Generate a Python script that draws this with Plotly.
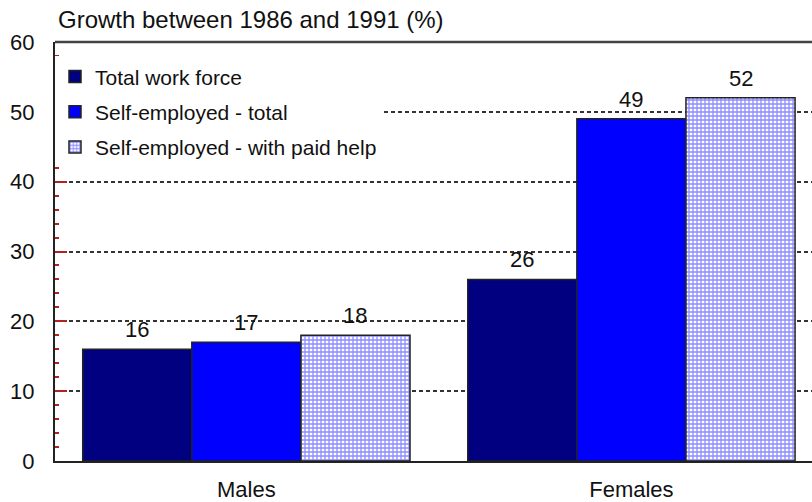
import plotly.graph_objects as go

categories = ["Males", "Females"]
series_names = ["Total work force", "Self-employed - total", "Self-employed - with paid help"]
total_work_force = [16, 26]
self_employed_total = [17, 49]
self_employed_paid_help = [18, 52]
y_ticks = [0, 10, 20, 30, 40, 50, 60]

FONT = "Liberation Sans, Arial, sans-serif"
x_idx = list(range(len(categories)))
bargap = 0.15
n_series = 3
bar_w = (1 - bargap) / n_series

fig = go.Figure()
series_vals = [total_work_force, self_employed_total, self_employed_paid_help]
fills = [
    dict(color="#000080"),
    dict(color="#0000ff"),
    dict(color="white", pattern=dict(shape="+", fgcolor="#1a1aff", bgcolor="white", size=4, solidity=0.55)),
]
for j, (name, vals) in enumerate(zip(series_names, series_vals)):
    m = dict(fills[j])
    m["line"] = dict(color="#222222", width=1.5)
    fig.add_trace(go.Bar(
        x=x_idx, y=vals, name=name, marker=m, legendgroup=f"g{j}",
        hoverinfo="skip",
    ))
    for i, v in enumerate(vals):
        fig.add_annotation(
            x=i + (j - 1) * bar_w, y=v, text=str(v), showarrow=False,
            yanchor="bottom", yshift=5, font=dict(family=FONT, size=22, color="#111111"),
        )

fig.update_layout(
    width=812, height=502,
    margin=dict(l=55, r=0, t=42, b=41),
    paper_bgcolor="white", plot_bgcolor="white",
    barmode="group", bargap=bargap, bargroupgap=0,
    font=dict(family=FONT, size=22, color="#111111"),
    showlegend=True,
    legend=dict(
        x=0.0, y=0.966, xanchor="left", yanchor="top",
        bgcolor="white", font=dict(family=FONT, size=21, color="#111111"),
        tracegroupgap=5, traceorder="grouped",
    ),
    xaxis=dict(
        range=[-0.497, 1.469], tickvals=x_idx, ticktext=categories,
        showgrid=False, zeroline=False, showline=True, linecolor="#222222", linewidth=2,
        ticks="", ticklabelstandoff=8, tickfont=dict(size=22), automargin=False,
    ),
    yaxis=dict(
        range=[0, 60], tickvals=y_ticks, showgrid=True, gridcolor="#333333",
        griddash="4px,3px", gridwidth=1.5, zeroline=False,
        showline=True, linecolor="#222222", linewidth=2,
        ticks="inside", ticklen=12, tickcolor="#b22222", tickwidth=1.5,
        minor=dict(ticks="inside", dtick=2, ticklen=4, tickcolor="#b22222", tickwidth=1.5, showgrid=False),
        ticklabelstandoff=14, tickfont=dict(size=22), automargin=False,
    ),
    shapes=[dict(type="line", xref="paper", yref="paper", x0=0, x1=1, y0=1, y1=1,
                 line=dict(color="#444444", width=2.5))],
    annotations=list(fig.layout.annotations) + [dict(
        text="Growth between 1986 and 1991 (%)", xref="paper", yref="paper",
        x=0.0, y=1.0, xanchor="left", yanchor="bottom", yshift=7, xshift=1, showarrow=False,
        font=dict(family=FONT, size=24, color="#111111"),
    )],
)

fig.write_html(
    "out.html",
    config={"displayModeBar": False},
    post_script="document.body.style.margin='0';document.body.style.overflow='hidden';",
)
